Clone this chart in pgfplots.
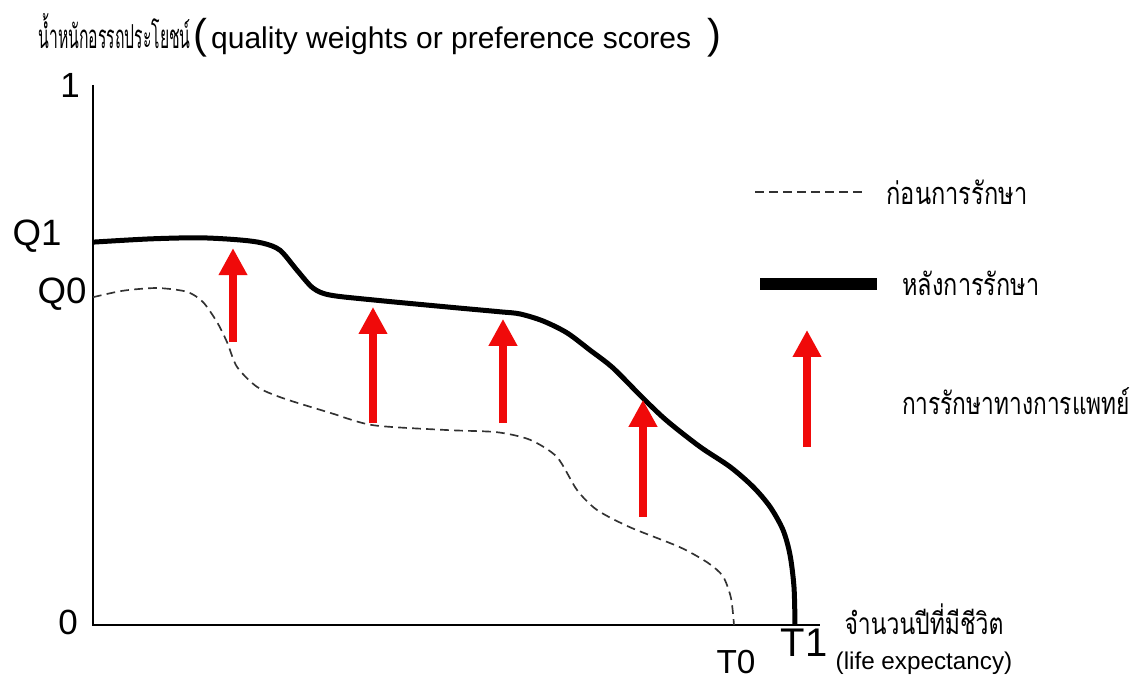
\documentclass[border=0pt]{standalone}
\usepackage{pgfplots}
\pgfplotsset{compat=1.18}
\usepackage{fontspec}
\setmainfont{Liberation Sans}
\newfontfamily\thai[Script=Thai]{Loma}
\usetikzlibrary{arrows.meta}
\definecolor{arrred}{RGB}{240,10,10}
\definecolor{dashgray}{RGB}{50,50,50}
\begin{document}
\begin{tikzpicture}
\begin{axis}[
  width=340.2pt, height=203.4pt, scale only axis,
  xmin=-93, xmax=1041, ymin=-0.09815, ymax=1.15741,
  hide axis, clip=false,
]
% axes
\addplot[black, line width=0.45pt] coordinates {(0,1) (0,0) (727,0)};
% before treatment (dashed)
\addplot[dashgray, line width=0.5pt, dash pattern=on 2.6pt off 1.6pt, smooth, tension=0.45] coordinates {
(0,0.607) (30,0.619) (64,0.624) (94,0.617) (110,0.598) (124,0.561) (134,0.524)
(144,0.478) (164,0.441) (190,0.420) (237,0.393) (280,0.370) (354,0.361) (404,0.357)
(437,0.343) (464,0.311) (484,0.250) (504,0.213) (537,0.181) (587,0.144) (615,0.115)
(630,0.090) (638,0.050) (641,0)};
% after treatment (solid)
\addplot[black, line width=1.5pt, smooth, tension=0.5] coordinates {
(0,0.709) (57,0.715) (107,0.717) (147,0.713) (170,0.707) (187,0.694) (204,0.657)
(220,0.624) (237,0.611) (280,0.602) (354,0.589) (407,0.580) (427,0.576) (450,0.563)
(474,0.541) (497,0.509) (520,0.476) (550,0.420) (574,0.378) (607,0.330) (637,0.293)
(660,0.256) (677,0.219) (690,0.176) (697,0.130) (701,0.070) (702,0)};
% arrows
\pgfplotsset{arr/.style={arrred, line width=2.4pt, -{Triangle[width=8.1pt,length=8.1pt]}}}
\addplot[arr] coordinates {(140,0.524) (140,0.698)};
\addplot[arr] coordinates {(280,0.374) (280,0.589)};
\addplot[arr] coordinates {(410,0.374) (410,0.567)};
\addplot[arr] coordinates {(550,0.200) (550,0.417)};
% legend
\addplot[dashgray, line width=0.5pt, dash pattern=on 2.6pt off 1.6pt] coordinates {(662,0.8019) (774,0.8019)};
\addplot[black, line width=3.6pt] coordinates {(667,0.6315) (784,0.6315)};
\addplot[arr] coordinates {(714,0.3296) (714,0.5463)};
% labels
\node[anchor=base west, inner sep=0pt] at (axis cs:-55,1.0667)
  {\scalebox{1}[2.1]{\resizebox{45.6pt}{!}{\thai น้ำหนักอรรถประโยชน์}}\hspace{1pt}{\fontsize{12.5}{12.5}\selectfont(}\hspace{1pt}\resizebox{144pt}{!}{\fontsize{8}{8}\selectfont quality weights or preference scores}\hspace{5pt}{\fontsize{12.5}{12.5}\selectfont)}};
\node[inner sep=0pt, font=\fontsize{10.5}{10.5}\selectfont] at (axis cs:-23,1.0) {1};
\node[inner sep=0pt, font=\fontsize{11}{11}\selectfont] at (axis cs:-56,0.720) {Q1};
\node[inner sep=0pt, font=\fontsize{11}{11}\selectfont] at (axis cs:-31,0.613) {Q0};
\node[inner sep=0pt, font=\fontsize{10.5}{10.5}\selectfont] at (axis cs:-25,0.0056) {0};
\node[inner sep=0pt, font=\fontsize{10}{10}\selectfont] at (axis cs:643,-0.0685) {T0};
\node[inner sep=0pt, font=\fontsize{12}{12}\selectfont] at (axis cs:711,-0.0333) {T1};
\node[inner sep=0pt] at (axis cs:831,0.0111) {\scalebox{1}[1.3]{\resizebox{47.7pt}{!}{\thai จำนวนปีที่มีชีวิต}}};
\node[inner sep=0pt] at (axis cs:831,-0.0704) {\resizebox{53pt}{!}{(life expectancy)}};
\node[inner sep=0pt] at (axis cs:864,0.8019) {\scalebox{1}[1.3]{\resizebox{42.3pt}{!}{\thai ก่อนการรักษา}}};
\node[inner sep=0pt] at (axis cs:878,0.6333) {\scalebox{1}[1.3]{\resizebox{41.1pt}{!}{\thai หลังการรักษา}}};
\node[inner sep=0pt] at (axis cs:923,0.4148) {\scalebox{1}[1.35]{\resizebox{68.4pt}{!}{\thai การรักษาทางการแพทย์}}};
\end{axis}
\pgfresetboundingbox
\path (current axis.south west) rectangle (current axis.north east);
\end{tikzpicture}
\end{document}
